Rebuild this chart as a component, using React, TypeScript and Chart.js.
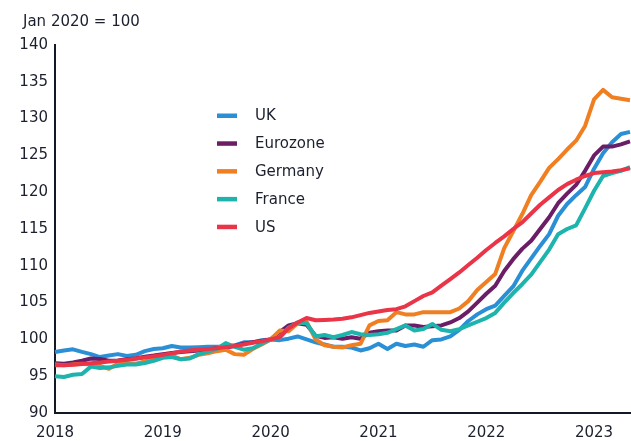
import React, { useEffect, useRef } from "react";
import { Chart, registerables } from "chart.js";

Chart.register(...registerables);

// Monthly categories, Jan 2018 .. May 2023
const months: string[] = Array.from(
  { length: 65 },
  (_, i) => `${2018 + Math.floor(i / 12)}-${String((i % 12) + 1).padStart(2, "0")}`
);

const titleText = "Jan 2020 = 100";
const seriesNames = ["UK", "Eurozone", "Germany", "France", "US"];
const seriesColors = ["#2b8fd6", "#6b1d66", "#f07f22", "#1db4ad", "#ea3447"];

const uk = [
  98.3, 98.5, 98.65, 98.3, 98.0, 97.6, 97.8, 98.0, 97.75, 97.9, 98.4, 98.7,
  98.8, 99.1, 98.9, 98.9, 98.95, 99.0, 99.0, 99.05, 99.2, 99.6, 99.6, 99.9,
  100.0, 99.9, 100.1, 100.4, 100.0, 99.6, 99.3, 99.0, 99.0, 98.9, 98.5, 98.8,
  99.4, 98.7, 99.4, 99.1, 99.3, 99.0, 99.9, 100.0, 100.4, 101.3, 102.5, 103.4,
  104.1, 104.6, 105.9, 107.2, 109.3, 111.0, 112.7, 114.3, 116.8, 118.4, 119.6, 120.7,
  123.2, 125.3, 126.8, 127.9, 128.2,
];

const eurozone = [
  96.75, 96.7, 96.85, 97.1, 97.4, 97.35, 97.1, 97.15, 97.3, 97.4, 97.65, 97.8,
  98.0, 98.15, 98.3, 98.4, 98.5, 98.6, 98.8, 98.9, 99.1, 99.4, 99.6, 99.8,
  100.0, 101.0, 101.9, 102.2, 102.0, 100.5, 100.2, 100.3, 100.1, 100.3, 100.1, 100.9,
  101.1, 101.2, 101.2, 101.9, 101.9, 101.7, 101.8, 101.9, 102.3, 102.9, 103.8, 105.0,
  106.2, 107.3, 109.3, 110.9, 112.3, 113.4, 115.0, 116.6, 118.5, 119.8, 121.0, 122.9,
  125.0, 126.2, 126.2, 126.5, 126.9,
];

const germany = [
  96.6, 96.5, 96.6, 96.7, 96.6, 96.4, 96.0, 96.7, 96.8, 96.7, 97.0, 97.4,
  97.6, 97.8, 97.3, 97.5, 97.9, 98.1, 98.4, 98.6, 98.0, 97.9, 98.7, 99.3,
  100.0, 101.2, 101.1, 102.2, 102.4, 100.0, 99.2, 99.0, 98.9, 99.2, 99.4, 101.9,
  102.5, 102.6, 103.7, 103.4, 103.4, 103.7, 103.7, 103.7, 103.7, 104.2, 105.2, 106.7,
  107.8, 108.9, 112.4, 114.7, 117.0, 119.6, 121.4, 123.3, 124.5, 125.8, 127.0, 129.0,
  132.6, 133.9, 132.9, 132.7, 132.5,
];

const france = [
  95.0, 94.9, 95.2, 95.3, 96.3, 96.1, 96.2, 96.4, 96.6, 96.6, 96.8, 97.1,
  97.5, 97.6, 97.3, 97.4, 98.0, 98.3, 98.7, 99.5, 99.0, 98.6, 98.8, 99.4,
  100.0, 100.2, 101.6, 102.3, 102.2, 100.4, 100.6, 100.3, 100.6, 101.0, 100.7, 100.6,
  100.7, 100.9, 101.4, 101.9, 101.2, 101.4, 102.1, 101.3, 101.1, 101.4, 101.9, 102.4,
  102.9, 103.6, 105.0, 106.3, 107.5, 108.8, 110.5, 112.2, 114.3, 115.0, 115.5, 117.8,
  120.2, 122.2, 122.6, 122.9, 123.4,
];

const us = [
  96.5, 96.5, 96.55, 96.65, 96.75, 96.85, 97.0, 97.1, 97.25, 97.4, 97.55, 97.7,
  97.9, 98.1, 98.35, 98.5, 98.6, 98.7, 98.8, 98.95, 99.1, 99.3, 99.55, 99.75,
  100.0, 100.3, 101.5, 102.3, 102.9, 102.6, 102.65, 102.7, 102.8, 103.0, 103.3, 103.6,
  103.8, 104.0, 104.1, 104.5, 105.2, 105.9, 106.4, 107.3, 108.2, 109.1, 110.1, 111.1,
  112.15, 113.1, 114.0, 115.0, 115.9, 117.1, 118.3, 119.3, 120.3, 121.1, 121.7, 122.2,
  122.6, 122.7, 122.8, 123.0, 123.25,
];

const seriesData = [uk, eurozone, germany, france, us];

const TEXT = "#1b1f2e";
const AXIS = "#121a28";
const FONT = "'DejaVu Sans', Verdana, sans-serif";

const annotations = {
  id: "annotations",
  afterDraw(chart: any) {
    const ctx = chart.ctx;
    const area = chart.chartArea;
    ctx.save();
    ctx.font = `15px ${FONT}`;
    ctx.textBaseline = "middle";
    ctx.textAlign = "left";
    // unit note above the y axis
    ctx.fillStyle = TEXT;
    ctx.fillText(titleText, 23, 22);
    // legend inside the plot
    chart.data.datasets.forEach((ds: any, i: number) => {
      const y = area.top + 70.5 + i * 27.8;
      const x = area.left + 162;
      ctx.fillStyle = ds.borderColor;
      ctx.fillRect(x, y - 2, 20, 4.5);
      ctx.fillStyle = TEXT;
      ctx.fillText(ds.label, x + 38, y + 1);
    });
    ctx.restore();
  },
};

export default function App() {
  const canvasRef = useRef<HTMLCanvasElement | null>(null);

  useEffect(() => {
    document.body.style.margin = "0";
    if (!canvasRef.current) return;
    const chart = new Chart(canvasRef.current, {
      type: "line",
      data: {
        labels: months,
        datasets: seriesNames.map((name, i) => ({
          label: name,
          data: seriesData[i],
          borderColor: seriesColors[i],
          backgroundColor: seriesColors[i],
          borderWidth: 4,
          pointRadius: 0,
          pointHoverRadius: 0,
          tension: 0,
          fill: false,
          borderJoinStyle: "round" as const,
          order: seriesNames.length - i,
        })),
      },
      options: {
        animation: false,
        responsive: true,
        maintainAspectRatio: false,
        layout: { padding: { left: 0, right: 1, top: 45, bottom: 0 } },
        plugins: {
          legend: { display: false },
          tooltip: { enabled: false },
          title: { display: false },
        },
        scales: {
          x: {
            type: "category",
            offset: false,
            grid: { display: false, drawTicks: false },
            border: { display: true, color: AXIS, width: 2 },
            ticks: {
              autoSkip: false,
              maxRotation: 0,
              minRotation: 0,
              padding: 11,
              color: TEXT,
              font: { family: FONT, size: 15 },
              callback: (_v: any, index: number) =>
                index % 12 === 0 ? months[index].slice(0, 4) : null,
            },
            afterFit: (scale: any) => {
              scale.height = 28;
            },
          },
          y: {
            min: 90,
            max: 140,
            grid: { display: false, drawTicks: false },
            border: { display: true, color: AXIS, width: 2 },
            ticks: {
              stepSize: 5,
              padding: 7,
              color: TEXT,
              font: { family: FONT, size: 15 },
            },
            afterFit: (scale: any) => {
              scale.width = 55;
            },
          },
        },
      },
      plugins: [annotations],
    } as any);
    return () => chart.destroy();
  }, []);

  return (
    <div style={{ position: "relative", width: "631px", height: "441px" }}>
      <canvas ref={canvasRef} />
    </div>
  );
}
